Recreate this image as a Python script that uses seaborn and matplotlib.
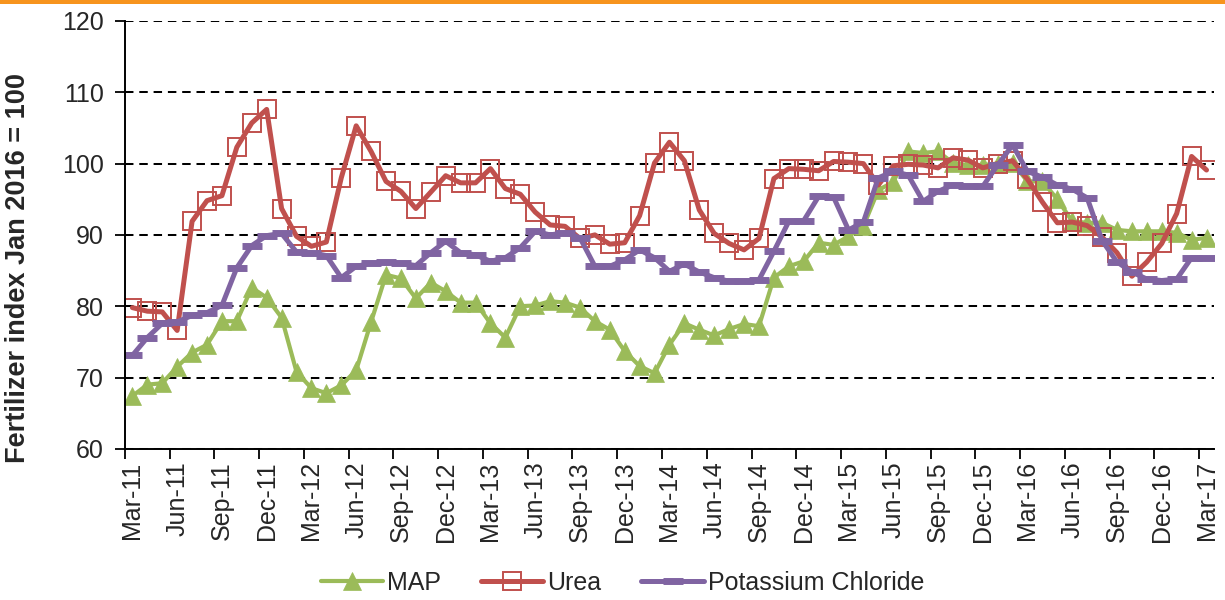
import numpy as np
import pandas as pd
import matplotlib
matplotlib.use('Agg')
import matplotlib.pyplot as plt
import seaborn as sns

# monthly fertilizer indices, Mar-11 .. Mar-17 (Jan 2016 = 100)
months = pd.date_range('2011-03-01', '2017-03-01', freq='MS')

tick_labels = ['Mar-11', 'Jun-11', 'Sep-11', 'Dec-11', 'Mar-12', 'Jun-12', 'Sep-12',
               'Dec-12', 'Mar-13', 'Jun-13', 'Sep-13', 'Dec-13', 'Mar-14', 'Jun-14',
               'Sep-14', 'Dec-14', 'Mar-15', 'Jun-15', 'Sep-15', 'Dec-15', 'Mar-16',
               'Jun-16', 'Sep-16', 'Dec-16', 'Mar-17']

map_index = [67.4, 69.0, 69.2, 71.5, 73.5, 74.6, 77.9, 77.9, 82.6, 81.2,
             78.4, 70.8, 68.5, 67.8, 68.9, 71.0, 77.8, 84.4, 83.9, 81.1,
             83.3, 82.1, 80.5, 80.5, 77.6, 75.6, 80.0, 80.1, 80.7, 80.5,
             79.8, 77.9, 76.7, 73.7, 71.6, 70.6, 74.6, 77.6, 76.7, 75.9,
             76.8, 77.5, 77.2, 84.0, 85.6, 86.3, 88.9, 88.6, 89.8, 91.2,
             96.3, 97.4, 101.7, 101.5, 101.7, 100.1, 99.8, 99.8, 100.0, 100.1,
             97.5, 97.5, 95.0, 91.9, 91.7, 91.7, 90.7, 90.5, 90.5, 90.5,
             90.3, 89.3, 89.6]

urea_index = [79.8, 79.3, 79.2, 76.6, 91.9, 94.8, 95.5, 102.3, 105.7, 107.6,
              93.7, 89.8, 88.4, 89.0, 98.0, 105.3, 101.7, 97.5, 96.1, 93.7,
              96.0, 98.3, 97.3, 97.3, 99.3, 96.5, 95.7, 93.2, 91.4, 91.2,
              89.5, 90.0, 88.7, 88.9, 92.7, 100.1, 103.0, 100.4, 93.5, 90.2,
              88.8, 87.9, 89.5, 97.9, 99.3, 99.2, 99.0, 100.3, 100.2, 100.0,
              97.0, 99.7, 99.9, 99.8, 99.4, 100.8, 100.5, 99.4, 100.0, 100.4,
              97.8, 94.6, 91.7, 91.8, 91.3, 89.7, 87.5, 84.2, 86.2, 88.8,
              93.0, 101.0, 99.1]

potash_index = [73.1, 75.6, 77.6, 77.8, 78.7, 79.1, 80.1, 85.4, 88.5, 89.9,
                90.2, 87.6, 87.5, 87.1, 84.0, 85.6, 86.0, 86.2, 86.0, 85.7,
                87.5, 89.1, 87.5, 87.2, 86.3, 86.8, 88.2, 90.5, 90.0, 90.3,
                89.6, 85.6, 85.6, 86.5, 87.9, 86.8, 84.9, 85.9, 84.8, 84.0,
                83.5, 83.5, 83.7, 87.7, 91.9, 92.0, 95.4, 95.3, 90.7, 91.8,
                98.0, 98.9, 98.4, 94.7, 96.1, 97.0, 96.8, 96.8, 99.8, 102.6,
                98.9, 98.1, 97.0, 96.4, 95.2, 89.2, 86.2, 84.8, 83.8, 83.6,
                83.8, 86.8, 86.7]

df = pd.DataFrame({'month': months, 'MAP': map_index, 'Urea': urea_index,
                   'Potassium Chloride': potash_index})
df['pos'] = np.arange(len(df))

green = '#9BBB59'
red = '#C0504D'
purple = '#8064A2'

sns.set_style('white')
plt.rcParams['font.family'] = ['Liberation Sans', 'DejaVu Sans']

fig, ax = plt.subplots(figsize=(12.25, 6), dpi=100)
fig.subplots_adjust(left=0.102, right=0.991, bottom=0.252, top=0.965)

sns.lineplot(data=df, x='pos', y='MAP', ax=ax, color=green, linewidth=3,
             marker='^', markersize=13, markeredgecolor=green, markeredgewidth=0.5,
             label='MAP')
sns.lineplot(data=df, x='pos', y='Urea', ax=ax, color=red, linewidth=3.6,
             marker='s', markersize=13, markerfacecolor='none', markeredgecolor=red,
             markeredgewidth=1.4, label='Urea')
sns.lineplot(data=df, x='pos', y='Potassium Chloride', ax=ax, color=purple,
             linewidth=3.6, marker='_', markersize=14, markeredgecolor=purple,
             markeredgewidth=5, label='Potassium Chloride')

ax.set_xlim(-0.5, len(df) - 0.5)
ax.set_ylim(60, 120)
ax.set_yticks(range(60, 121, 10))

ax.set_xticks(np.arange(0, len(df), 3))
ax.set_xticklabels(tick_labels, rotation=90)
ax.set_xticks(np.arange(-0.5, len(df) - 1, 3), minor=True)
ax.tick_params(axis='x', which='major', length=0, pad=9, labelsize=18)
ax.tick_params(axis='x', which='minor', length=7, width=1.3, color='black',
               direction='out', bottom=True)
ax.tick_params(axis='y', length=7, width=1.3, color='black', direction='out',
               left=True, pad=8, labelsize=18)

ax.yaxis.grid(True, color='black', linestyle=(0, (4.2, 2.9)), linewidth=1.45)
ax.xaxis.grid(False)
ax.set_axisbelow(True)

for side in ['top', 'right']:
    ax.spines[side].set_visible(False)
for side in ['left', 'bottom']:
    ax.spines[side].set_color('black')
    ax.spines[side].set_linewidth(1.4)

ax.set_xlabel('')
ax.set_ylabel('Fertilizer index Jan 2016 = 100', fontsize=19.5, fontweight='bold')
ax.yaxis.set_label_coords(-0.086, 0.423)

handles, labels = ax.get_legend_handles_labels()
if ax.get_legend() is not None:
    ax.get_legend().remove()
fig.legend(handles, labels, loc='center', bbox_to_anchor=(0.508, 0.028), ncol=3,
           frameon=False, fontsize=18, handlelength=2.5, handletextpad=0.15,
           columnspacing=1.6, numpoints=1)

# orange rule along the top edge
fig.add_artist(plt.Rectangle((0, 1 - 4 / 600), 1, 4 / 600, transform=fig.transFigure,
                             color='#F7941D', linewidth=0))

fig.savefig('out.png', dpi=100)
